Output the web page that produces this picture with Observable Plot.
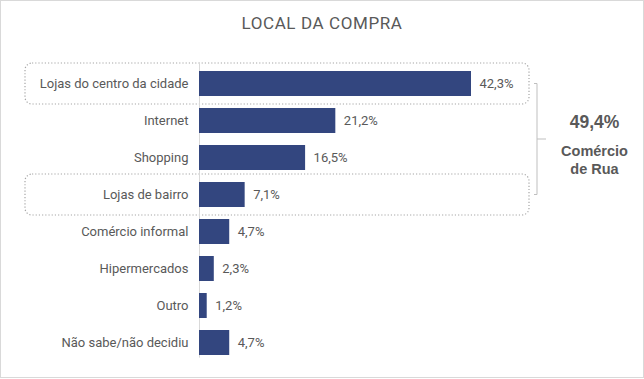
<!DOCTYPE html>
<html>
<head>
<meta charset="utf-8">
<script src="https://cdn.jsdelivr.net/npm/d3@7"></script>
<script src="https://cdn.jsdelivr.net/npm/@observablehq/plot@0.6"></script>
<style>
  body { margin: 0; background: #fff; }
  #frame { position: relative; width: 644px; height: 378px; box-sizing: border-box; border: 1px solid #d9d9d9; background: #fff; font-family: Roboto, "Open Sans", sans-serif; overflow: hidden; }
  #title { height: 45px; line-height: 45px; text-align: center; font-size: 17px; color: #595959; letter-spacing: 0.6px; }
  #chart svg { display: block; overflow: visible; }
</style>
</head>
<body>
<div id="frame">
  <div id="title">LOCAL DA COMPRA</div>
  <div id="chart"></div>
</div>
<script>
// ---- data ----
const categories = [
  "Lojas do centro da cidade",
  "Internet",
  "Shopping",
  "Lojas de bairro",
  "Comércio informal",
  "Hipermercados",
  "Outro",
  "Não sabe/não decidiu"
];
const values = [42.3, 21.2, 16.5, 7.1, 4.7, 2.3, 1.2, 4.7];
const highlighted = ["Lojas do centro da cidade", "Lojas de bairro"];
const groupTotal = "49,4%";
const groupLabel = ["Comércio", "de Rua"];

const data = categories.map((c, i) => ({category: c, value: values[i]}));
const fmt = v => v.toFixed(1).replace(".", ",") + "%";
const maxValue = d3.max(values);

const textColor = "#595959";
const barColor = "#33467f";
const fontFamily = "Roboto, 'Open Sans', sans-serif";
const noteFont = "'Liberation Sans', Arial, sans-serif";

const chart = Plot.plot({
  width: 642,
  height: 331,
  marginLeft: 198,
  marginRight: 172,
  marginTop: 17.36,
  marginBottom: 15.36,
  style: {fontSize: "13px", fontFamily, color: textColor, background: "transparent", overflow: "visible"},
  x: {domain: [0, maxValue], axis: null},
  y: {domain: categories, label: null, tickSize: 0, tickPadding: 11, paddingInner: 0.33, paddingOuter: 0.165},
  marks: [
    // dotted rounded boxes around highlighted rows
    Plot.barX(highlighted, {
      x1: 0, x2: maxValue, y: d => d,
      insetLeft: -174, insetRight: -58, insetTop: -8, insetBottom: -8,
      rx: 7, ry: 7,
      fill: "none", stroke: "#a6a6a6", strokeWidth: 1.2, strokeDasharray: "1.2,2"
    }),
    Plot.ruleX([0], {stroke: "#d9d9d9", insetBottom: 4, insetTop: -1}),
    Plot.barX(data, {x: "value", y: "category", fill: barColor}),
    Plot.text(data, {x: "value", y: "category", text: d => fmt(d.value), dx: 8, textAnchor: "start", fill: textColor})
  ]
});
document.getElementById("chart").appendChild(chart);

// bracket + group annotation, positioned with the chart's own scales
(function () {
  const ys = chart.scale("y");
  const xs = chart.scale("x");
  const bw = ys.bandwidth;
  const yPos = c => {
    if (typeof ys.apply === "function") return ys.apply(c);
    const s = d3.scaleBand(ys.domain, ys.range).paddingInner(ys.paddingInner).paddingOuter(ys.paddingOuter).align(ys.align ?? 0.5);
    return s(c);
  };
  const xPos = v => (typeof xs.apply === "function") ? xs.apply(v) : d3.scaleLinear(xs.domain, xs.range)(v);
  const y0 = yPos(highlighted[0]) + bw / 2;
  const y1 = yPos(highlighted[1]) + bw / 2;
  const xMax = xPos(maxValue);
  const bx = xMax + 66;
  const mid = (y0 + y1) / 2;
  const g = d3.select(chart).append("g").attr("font-family", noteFont);
  g.append("path")
    .attr("d", `M${bx - 3},${y0}H${bx}V${y1}H${bx - 3}M${bx},${mid}H${bx + 9}`)
    .attr("fill", "none").attr("stroke", "#bfbfbf").attr("stroke-width", 1);
  const tx = bx + 57.5;
  g.append("text").attr("x", tx).attr("y", mid - 17).attr("dy", "0.35em")
    .attr("text-anchor", "middle").attr("fill", textColor)
    .attr("font-weight", "bold").attr("font-size", 17.5).text(groupTotal);
  groupLabel.forEach((t, i) => {
    g.append("text").attr("x", tx).attr("y", mid + 11.5 + i * 18.5).attr("dy", "0.35em")
      .attr("text-anchor", "middle").attr("fill", textColor)
      .attr("font-weight", "bold").attr("font-size", 14.5).text(t);
  });
})();
</script>
</body>
</html>
